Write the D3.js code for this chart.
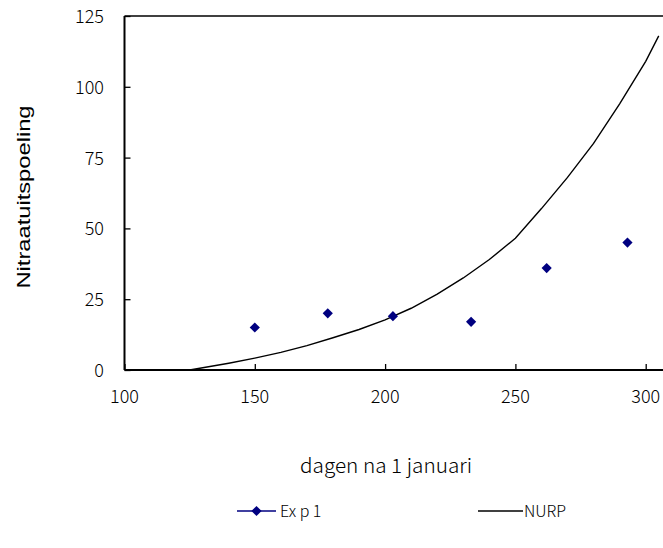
<!DOCTYPE html>
<html>
<head>
<meta charset="utf-8">
<script src="https://cdn.jsdelivr.net/npm/d3@7"></script>
<style>
	body { margin: 0; background: #fff; }
	svg { display: block; }
</style>
</head>
<body>
<div id="chart"></div>
<script>
// Exp 1 measurements
var expDays = [150, 178, 203, 233, 262, 293];
var expValues = [15, 20, 19, 17, 36, 45];

// NURP model curve
var nurpDays = [125, 130, 140, 150, 160, 170, 180, 190, 200, 210, 220, 230, 240, 250, 260, 270, 280, 290, 300, 305];
var nurpValues = [0, 0.8, 2.4, 4.2, 6.2, 8.6, 11.4, 14.3, 17.7, 21.8, 26.8, 32.5, 39, 46.5, 57, 68, 80, 94, 109, 118];

var xTicks = [100, 150, 200, 250, 300];
var yTicks = [0, 25, 50, 75, 100, 125];

var width = 663, height = 548;
var plot = {left: 124.5, top: 16, bottom: 370};
var tickFont = "'Noto Sans CJK JP', 'Liberation Sans', sans-serif";

var svg = d3.select("#chart").append("svg")
	.attr("width", width)
	.attr("height", height);

var x = d3.scaleLinear().domain([100, 310]).range([plot.left, plot.left + 210 * 2.606]);
var y = d3.scaleLinear().domain([0, 125]).range([plot.bottom, plot.top]);

// top border of plot area
svg.append("line")
	.attr("x1", plot.left).attr("x2", width)
	.attr("y1", plot.top).attr("y2", plot.top)
	.attr("stroke", "#000").attr("stroke-width", 1.5);

// y axis
var yAxis = svg.append("g")
	.attr("transform", "translate(" + plot.left + ",0)")
	.call(d3.axisRight(y).tickValues(yTicks).tickSize(6).tickFormat(""));
yAxis.select(".domain").attr("stroke-width", 2).attr("d", "M0," + plot.top + "V" + plot.bottom);
yAxis.selectAll(".tick line").attr("stroke-width", 1.3);

svg.append("g").selectAll("text")
	.data(yTicks)
	.enter()
	.append("text")
	.attr("x", 104)
	.attr("y", function(d) { return y(d) + 7; })
	.attr("text-anchor", "end")
	.style("font-family", tickFont)
	.style("font-weight", 300)
	.style("font-size", "18px")
	.text(function(d) { return d; });

// x axis
var xAxis = svg.append("g")
	.attr("transform", "translate(0," + plot.bottom + ")")
	.call(d3.axisTop(x).tickValues(xTicks).tickSize(6).tickFormat(""));
xAxis.select(".domain").attr("stroke-width", 2).attr("d", "M" + plot.left + ",0H" + width);
xAxis.selectAll(".tick line").attr("stroke-width", 1.3);

svg.append("g").selectAll("text")
	.data(xTicks)
	.enter()
	.append("text")
	.attr("x", function(d) { return x(d); })
	.attr("y", 403)
	.attr("text-anchor", "middle")
	.style("font-family", tickFont)
	.style("font-weight", 300)
	.style("font-size", "18px")
	.text(function(d) { return d; });

// axis titles
svg.append("text")
	.attr("x", 386)
	.attr("y", 473)
	.attr("text-anchor", "middle")
	.attr("textLength", 172)
	.attr("lengthAdjust", "spacingAndGlyphs")
	.style("font-family", tickFont)
	.style("font-weight", 300)
	.style("font-size", "20px")
	.text("dagen na 1 januari");

svg.append("text")
	.attr("transform", "translate(30,197) rotate(-90)")
	.attr("text-anchor", "middle")
	.attr("textLength", 183)
	.attr("lengthAdjust", "spacingAndGlyphs")
	.style("font-family", "'Liberation Sans', Arial, sans-serif")
	.style("font-size", "18px")
	.text("Nitraatuitspoeling");

// NURP line
var nurp = nurpDays.map(function(d, i) { return [d, nurpValues[i]]; });
svg.append("path")
	.datum(nurp)
	.attr("fill", "none")
	.attr("stroke", "#000")
	.attr("stroke-width", 1.4)
	.attr("d", d3.line()
		.x(function(d) { return x(d[0]); })
		.y(function(d) { return y(d[1]); }));

// Exp 1 diamonds
var diamond = d3.symbol().type(d3.symbolSquare).size(52);
svg.append("g").selectAll("path")
	.data(expDays)
	.enter()
	.append("path")
	.attr("d", diamond)
	.attr("transform", function(d, i) { return "translate(" + x(d) + "," + y(expValues[i]) + ") rotate(45)"; })
	.attr("fill", "#000080");

// legend
var legend = svg.append("g");
legend.append("line")
	.attr("x1", 237).attr("x2", 276).attr("y1", 511).attr("y2", 511)
	.attr("stroke", "#000080").attr("stroke-width", 1.4);
legend.append("path")
	.attr("d", diamond)
	.attr("transform", "translate(256.5,511) rotate(45)")
	.attr("fill", "#000080");
legend.append("text")
	.attr("x", 280).attr("y", 517)
	.style("font-family", tickFont)
	.style("font-weight", 300)
	.style("font-size", "16px")
	.text("Ex p 1");
legend.append("line")
	.attr("x1", 478).attr("x2", 523).attr("y1", 511).attr("y2", 511)
	.attr("stroke", "#000").attr("stroke-width", 1.4);
legend.append("text")
	.attr("x", 524).attr("y", 517)
	.style("font-family", tickFont)
	.style("font-weight", 300)
	.style("font-size", "16px")
	.text("NURP");
</script>
</body>
</html>
